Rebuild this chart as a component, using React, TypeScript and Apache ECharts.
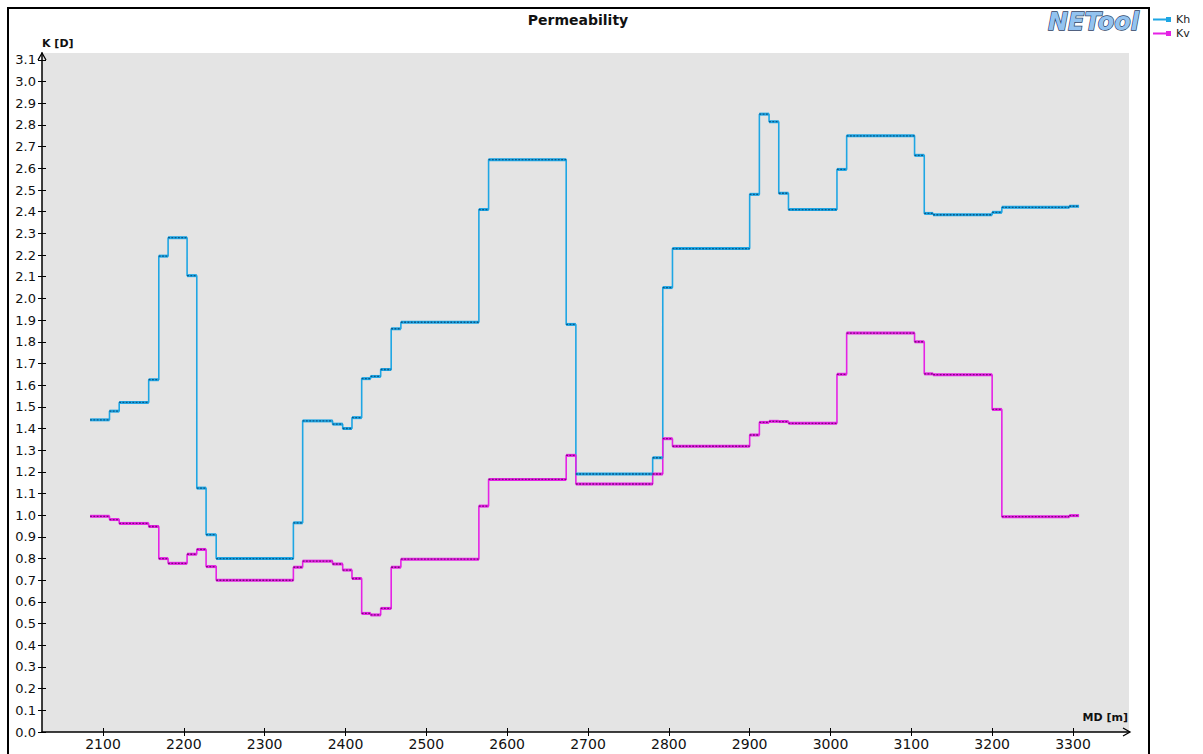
import React, { useEffect, useRef } from "react";
import * as echarts from "echarts";

// Cell boundaries along the well (MD, m); each cell spans tops[i]..tops[i+1]
const tops = [
  2084, 2108, 2120, 2156.5, 2169, 2180.5, 2204, 2216, 2227.5, 2240, 2335.5, 2347,
  2384, 2396.5, 2408, 2420, 2431, 2443.5, 2456.5, 2468.5, 2565, 2577, 2673, 2685,
  2780, 2792.5, 2804.5, 2900, 2912, 2924, 2936, 2948, 3008, 3020, 3104, 3116, 3127,
  3200, 3212, 3295.5, 3307.5,
];

// Horizontal permeability per cell (D)
const khValues = [
  1.44, 1.48, 1.52, 1.625, 2.195, 2.28, 2.105, 1.125, 0.91, 0.8, 0.965, 1.435,
  1.42, 1.4, 1.45, 1.63, 1.64, 1.672, 1.86, 1.89, 2.41, 2.64, 1.88, 1.19,
  1.265, 2.05, 2.23, 2.48, 2.85, 2.815, 2.485, 2.41, 2.595, 2.75, 2.66, 2.392, 2.386,
  2.397, 2.42, 2.425,
];

// Vertical permeability per cell (D)
const kvValues = [
  0.995, 0.98, 0.962, 0.948, 0.8, 0.778, 0.82, 0.842, 0.763, 0.7, 0.76, 0.788,
  0.775, 0.747, 0.708, 0.547, 0.54, 0.57, 0.76, 0.797, 1.042, 1.165, 1.276, 1.144,
  1.19, 1.353, 1.318, 1.37, 1.428, 1.433, 1.432, 1.424, 1.65, 1.84, 1.8, 1.652, 1.648,
  1.488, 0.993, 0.998,
];

const xTicks = [2100, 2200, 2300, 2400, 2500, 2600, 2700, 2800, 2900, 3000, 3100, 3200, 3300];
const yTicks = [
  0, 0.1, 0.2, 0.3, 0.4, 0.5, 0.6, 0.7, 0.8, 0.9, 1.0, 1.1, 1.2, 1.3, 1.4, 1.5, 1.6,
  1.7, 1.8, 1.9, 2.0, 2.1, 2.2, 2.3, 2.4, 2.5, 2.6, 2.7, 2.8, 2.9, 3.0, 3.1,
];

const KH_COLOR = "#1ea6e4";
const KH_DARK = "#0c5686";
const KV_COLOR = "#e522e5";
const KV_DARK = "#7a0c7a";

const FONT = "DejaVu Sans";

const stepData = (vals: number[]) =>
  tops.map((t, i) => [t, vals[Math.min(i, vals.length - 1)]]);

const cellData = (vals: number[]) => vals.map((v, i) => [tops[i], tops[i + 1], v]);

const cellRenderer = (base: string, dark: string) => (params: any, api: any) => {
  const a = api.coord([api.value(0), api.value(2)]);
  const b = api.coord([api.value(1), api.value(2)]);
  const shape = { x1: a[0], y1: a[1], x2: b[0], y2: b[1] };
  return {
    type: "group",
    children: [
      { type: "line", shape, style: { stroke: base, lineWidth: 3 } },
      { type: "line", shape, style: { stroke: dark, lineWidth: 1.3, lineDash: [1.8, 1.5] } },
    ],
  };
};

const legendIcon = "path://M0,1.5 L13,1.5 L13,0 L18,0 L18,5 L13,5 L13,3.5 L0,3.5 Z";

export default function App() {
  const ref = useRef<HTMLDivElement>(null);

  useEffect(() => {
    if (!ref.current) return;
    const chart = echarts.init(ref.current, undefined, { renderer: "svg" });

    const xMin = 2024.5;
    const xMax = 3369.3;
    const yMax = 3.132;

    chart.setOption({
      animation: false,
      backgroundColor: "#ffffff",
      grid: {
        left: 42,
        top: 53,
        width: 1087,
        height: 679,
        show: true,
        backgroundColor: "#e4e4e4",
        borderWidth: 0,
      },
      legend: {
        left: 1153,
        top: 14,
        orient: "vertical",
        itemGap: 3,
        itemWidth: 18,
        itemHeight: 5,
        padding: 0,
        icon: legendIcon,
        data: ["Kh", "Kv"],
        textStyle: { fontFamily: FONT, fontSize: 11, color: "#222" },
      },
      xAxis: [
        {
          type: "value",
          min: xMin,
          max: xMax,
          position: "bottom",
          axisLine: { show: true, lineStyle: { color: "#000", width: 1.5 } },
          axisTick: { show: true, length: 4, lineStyle: { color: "#000" }, customValues: xTicks },
          axisLabel: {
            customValues: xTicks,
            margin: 5,
            fontFamily: FONT,
            fontSize: 14,
            color: "#111",
            formatter: (v: number) => String(Math.round(v)),
          },
          splitLine: { show: false },
        },
        {
          type: "value",
          min: xMin,
          max: xMax,
          position: "bottom",
          axisLine: { show: false },
          axisTick: { show: true, inside: true, length: 4, lineStyle: { color: "#000" }, customValues: xTicks },
          axisLabel: { show: false },
          splitLine: { show: false },
        },
      ],
      yAxis: [
        {
          type: "value",
          min: 0,
          max: yMax,
          position: "left",
          axisLine: { show: true, lineStyle: { color: "#000", width: 1.5 } },
          axisTick: { show: true, length: 4, lineStyle: { color: "#000" }, customValues: yTicks },
          axisLabel: {
            customValues: yTicks,
            margin: 6,
            fontFamily: FONT,
            fontSize: 13,
            color: "#111",
            formatter: (v: number) => v.toFixed(1),
          },
          splitLine: { show: false },
        },
        {
          type: "value",
          min: 0,
          max: yMax,
          position: "left",
          axisLine: { show: false },
          axisTick: { show: true, inside: true, length: 4, lineStyle: { color: "#000" }, customValues: yTicks },
          axisLabel: { show: false },
          splitLine: { show: false },
        },
      ],
      series: [
        {
          name: "Kh",
          type: "line",
          step: "end",
          showSymbol: false,
          data: stepData(khValues),
          itemStyle: { color: KH_COLOR },
          lineStyle: { color: KH_COLOR, width: 1.6 },
          z: 2,
        },
        {
          name: "Kv",
          type: "line",
          step: "end",
          showSymbol: false,
          data: stepData(kvValues),
          itemStyle: { color: KV_COLOR },
          lineStyle: { color: KV_COLOR, width: 1.6 },
          z: 2,
        },
        {
          name: "Kh cells",
          type: "custom",
          renderItem: cellRenderer(KH_COLOR, KH_DARK),
          data: cellData(khValues),
          encode: { x: [0, 1], y: 2 },
          z: 3,
        },
        {
          name: "Kv cells",
          type: "custom",
          renderItem: cellRenderer(KV_COLOR, KV_DARK),
          data: cellData(kvValues),
          encode: { x: [0, 1], y: 2 },
          z: 3,
        },
      ],
      graphic: [
        {
          type: "rect",
          shape: { x: 8, y: 8, width: 1141, height: 760 },
          style: { fill: "none", stroke: "#000", lineWidth: 2 },
          silent: true,
        },
        {
          type: "text",
          x: 578,
          y: 20,
          style: {
            text: "Permeability",
            font: `bold 14px "${FONT}"`,
            fill: "#111",
            align: "center",
            verticalAlign: "middle",
          },
        },
        {
          type: "text",
          x: 42,
          y: 43,
          style: {
            text: "K [D]",
            font: `bold 11px "${FONT}"`,
            fill: "#111",
            align: "left",
            verticalAlign: "middle",
          },
        },
        {
          type: "text",
          x: 1128,
          y: 717,
          style: {
            text: "MD [m]",
            font: `bold 11px "${FONT}"`,
            fill: "#111",
            align: "right",
            verticalAlign: "middle",
          },
        },
        {
          type: "text",
          x: 1139,
          y: 22,
          style: {
            text: "NETool",
            font: `italic bold 24px "${FONT}"`,
            fill: "#93c3f0",
            stroke: "#2a3d63",
            lineWidth: 1.3,
            align: "right",
            verticalAlign: "middle",
          },
        },
        {
          type: "polyline",
          shape: { points: [[38, 60], [42, 53], [46, 60]] },
          style: { stroke: "#000", lineWidth: 1.3, fill: "none" },
        },
        {
          type: "polyline",
          shape: { points: [[1123, 728], [1130, 732], [1123, 736]] },
          style: { stroke: "#000", lineWidth: 1.3, fill: "none" },
        },
      ],
    });

    return () => chart.dispose();
  }, []);

  return (
    <div
      ref={ref}
      style={{ position: "fixed", left: 0, top: 0, width: 1203, height: 754 }}
    />
  );
}
